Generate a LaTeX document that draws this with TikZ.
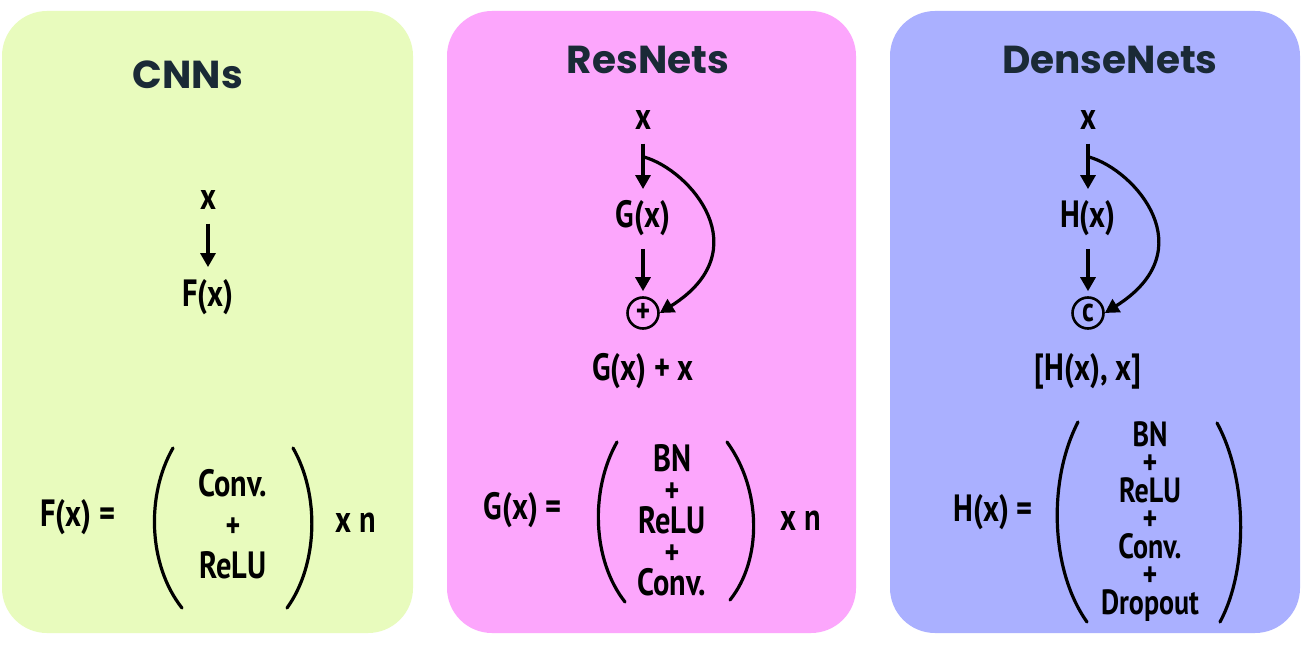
\documentclass[tikz,border=0pt]{standalone}
\usepackage{fontspec}
\usetikzlibrary{arrows.meta}
\newfontfamily\titlefont{Poppins}[UprightFont=* Bold]
\newfontfamily\hand{PT Sans}[UprightFont=* Bold, FakeStretch=0.8]
\definecolor{cgreen}{RGB}{232,251,189}
\definecolor{cpink}{RGB}{252,166,252}
\definecolor{cblue}{RGB}{170,176,255}
\definecolor{ctitle}{RGB}{26,42,54}
\newcommand{\pls}{{\fontsize{35}{20}\selectfont +}}
\tikzset{
  panel/.style={rounded corners=45pt, draw=none},
  ttl/.style={font=\titlefont\fontsize{39}{44}\selectfont, text=ctitle, inner sep=0pt},
  hw/.style={font=\hand\fontsize{38}{40}\selectfont, inner sep=0pt},
  stack/.style={align=center, inner sep=0pt},
  arr/.style={line width=3.2pt, -{Triangle[width=15pt,length=14pt]}},
  par/.style={line width=3.2pt, line cap=round},
  op/.style={circle, draw, line width=2.6pt, minimum size=31pt, inner sep=0pt, font=\hand\fontsize{34}{36}\selectfont}
}
\begin{document}
\lineskiplimit=-60pt
\begin{tikzpicture}[x=1pt,y=-1pt]
\useasboundingbox (0,0) rectangle (1311,647);
\fill[white] (0,0) rectangle (1311,647);
% panels
\fill[panel, cgreen] (2,11) rectangle (413,633);
\fill[panel, cpink] (447,11) rectangle (856,633);
\fill[panel, cblue] (890,11) rectangle (1300,633);
% titles
\node[ttl] (t1) at (188,75) {CNNs};
\node[ttl] (t2) at (648,60) {ResNets};
\node[ttl] (t3) at (1110,60) {DenseNets};

% ---- CNN panel
\node[hw] (cx) at (208,200) {x};
\node[hw] (cf) at (208,297) {F(x)};
\draw[arr, shorten <=14pt, shorten >=12pt] (cx.south) -- (cf.north);
\node[hw] (cfe) at (78,517) {F(x) =};
\node[stack, font=\hand\fontsize{38}{41}\selectfont] (cs) at (233,524) {Conv.\\ \pls\\ ReLU};
\node[hw] (cn) at (356,523) {x n};
\draw[par] (173,448) .. controls (146,495) and (148,565) .. (182,608);
\draw[par] (293,448) .. controls (320,495) and (318,565) .. (287,608);

% ---- ResNet panel
\node[hw] (rx) at (643,120) {x};
\node[hw] (rg) at (643,218) {G(x)};
\node[op] (rp) at (643,313) {+};
\node[hw] (rs) at (643,371) {G(x) + x};
\draw[arr, shorten <=14pt, shorten >=11pt] (rx.south) -- (rg.north);
\draw[arr, shorten <=13pt, shorten >=5pt] (rg.south) -- (rp.north);
\coordinate (rb) at (644,157);
\draw[arr] (rb) .. controls (690,170) and (760,250) .. (rp.east);
\node[hw] (rge) at (523,510) {G(x) =};
\node[stack, font=\hand\fontsize{38}{31}\selectfont] (rs2) at (672,520) {BN\\ \pls\\ ReLU\\ \pls\\ Conv.};
\node[hw] (rn) at (801,521) {x n};
\draw[par] (617,442) .. controls (590,490) and (592,560) .. (625,602);
\draw[par] (727,442) .. controls (762,490) and (762,560) .. (730,600);

% ---- DenseNet panel
\node[hw] (dx) at (1088,120) {x};
\node[hw] (dh) at (1088,218) {H(x)};
\node[op] (dc) at (1088,313) {c};
\node[hw] (ds) at (1088,371) {[H(x), x]};
\draw[arr, shorten <=14pt, shorten >=11pt] (dx.south) -- (dh.north);
\draw[arr, shorten <=13pt, shorten >=5pt] (dh.south) -- (dc.north);
\coordinate (db) at (1089,157);
\draw[arr] (db) .. controls (1135,170) and (1205,250) .. (dc.east);
\node[hw] (dhe) at (993,512) {H(x) =};
\node[stack, font=\hand\fontsize{35}{28}\selectfont] (dstk) at (1150,522) {BN\\ \pls\\ ReLU\\ \pls\\ Conv.\\ \pls\\ Dropout};
\draw[par] (1078,422) .. controls (1048,480) and (1050,570) .. (1087,622);
\draw[par] (1217,423) .. controls (1248,480) and (1248,570) .. (1220,622);
\end{tikzpicture}
\end{document}
